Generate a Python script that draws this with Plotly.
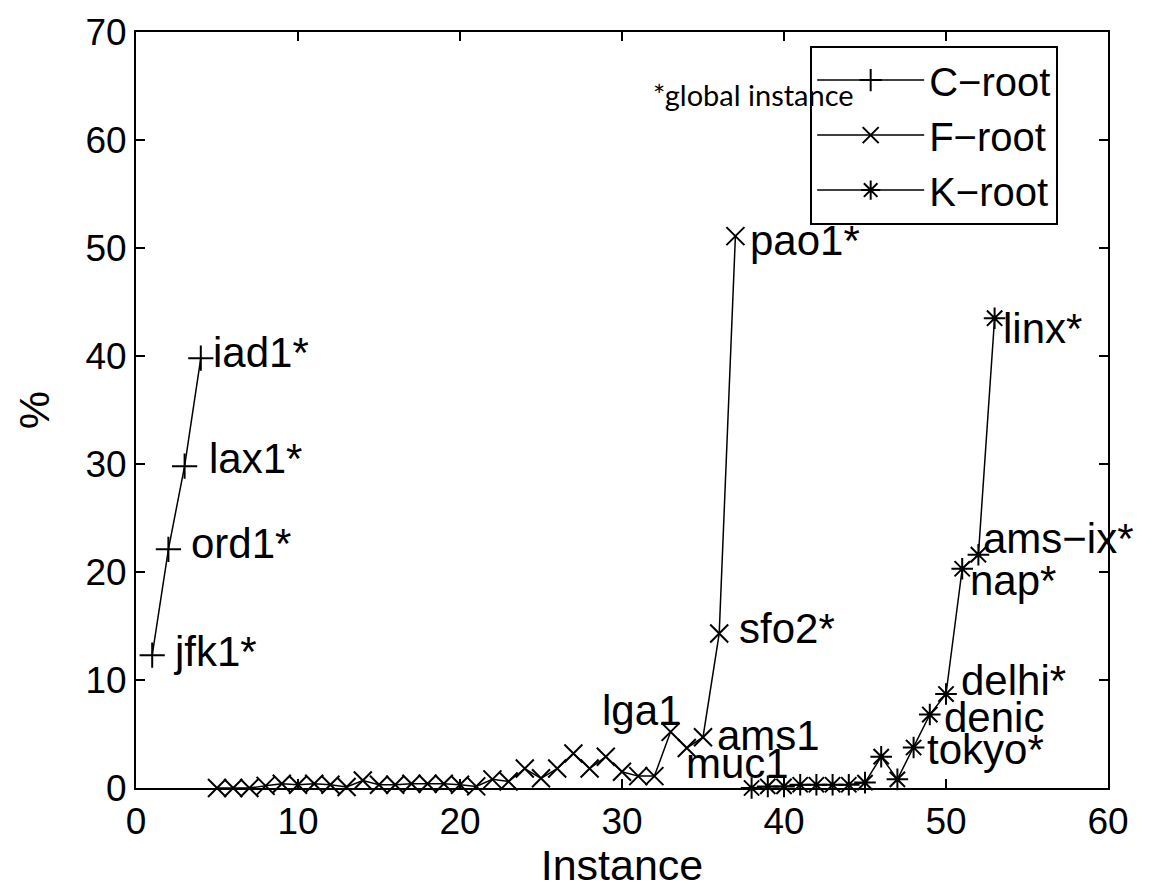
import plotly.graph_objects as go

# Share of queries (%) per anycast instance, grouped by root server
c_x = [1, 2, 3, 4]
c_y = [12.3, 22.1, 29.8, 39.8]
c_names = ["jfk1*", "ord1*", "lax1*", "iad1*"]

f_x = list(range(5, 38))
f_y = [0, 0, 0, 0.2, 0.4, 0.3, 0.4, 0.3, 0.1, 0.7, 0.3, 0.3, 0.4, 0.4, 0.4,
       0.3, 0.15, 0.8, 0.6, 1.8, 0.9, 1.8, 3.2, 1.8, 2.9, 1.5, 1.1, 1.1,
       5.2, 3.7, 4.7, 14.3, 51.1]
f_labelled_x = [33, 34, 35, 36, 37]
f_names = ["lga1", "muc1", "ams1", "sfo2*", "pao1*"]

k_x = list(range(38, 54))
k_y = [0, 0.15, 0.15, 0.3, 0.3, 0.3, 0.3, 0.5, 2.9, 0.8, 3.75, 6.8, 8.7,
       20.3, 21.6, 43.5]
k_labelled_x = [48, 49, 50, 51, 52, 53]
k_names = ["tokyo*", "denic", "delhi*", "nap*", "ams\u2212ix*", "linx*"]

series_names = ["C\u2212root", "F\u2212root", "K\u2212root"]
x_ticks = [0, 10, 20, 30, 40, 50, 60]
y_ticks = [0, 10, 20, 30, 40, 50, 60, 70]

FONT = "Liberation Sans, Arial, Helvetica, sans-serif"
TICK_FS = 37
LABEL_FS = 42
LEGEND_FS = 40
TITLE_FS = 43

fig = go.Figure()
for name, xs, ys, sym, size in [
    (series_names[0], c_x, c_y, "cross-thin", 18),
    (series_names[1], f_x, f_y, "x-thin", 18),
    (series_names[2], k_x, k_y, "asterisk", 18),
]:
    fig.add_trace(go.Scatter(
        x=xs, y=ys, name=name, mode="lines+markers",
        line=dict(color="black", width=1.5),
        marker=dict(symbol=sym, size=size, color="black",
                    line=dict(color="black", width=2)),
        cliponaxis=False,
    ))

# label placement: (xanchor, xshift px, yshift px) for each named point
c_place = [("left", 19, 4), ("left", 21, 6), ("left", 22, 8), ("left", 10, 6)]
f_place = [("right", 12, 21), ("left", -3, -15), ("left", 12, 2),
           ("left", 18, 5), ("left", 13, -4)]
k_place = [("left", 11, -2), ("left", 12, -3), ("left", 13, 14),
           ("left", 6, -12), ("left", 3, 16), ("left", 6, -10)]

annotations = []


def add_labels(xs, ys, lab_x, names, places):
    for lx, txt, (anc, dx, dy) in zip(lab_x, names, places):
        yv = ys[xs.index(lx)]
        annotations.append(dict(
            x=lx, y=yv, xref="x", yref="y", text=txt, showarrow=False,
            xanchor=anc, yanchor="middle", xshift=dx, yshift=dy,
            font=dict(family=FONT, size=LABEL_FS, color="black"),
        ))


add_labels(c_x, c_y, c_x, c_names, c_place)
add_labels(f_x, f_y, f_labelled_x, f_names, f_place)
add_labels(k_x, k_y, k_labelled_x, k_names, k_place)

annotations.append(dict(
    x=0.635, y=0.917, xref="paper", yref="paper", text="*global instance",
    showarrow=False, xanchor="center", yanchor="middle",
    font=dict(family="Lato, Open Sans, sans-serif", size=29, color="black"),
))

axis_common = dict(
    showline=True, linecolor="black", linewidth=2, mirror="ticks",
    ticks="inside", ticklen=9, tickwidth=2, tickcolor="black",
    showgrid=False, zeroline=False,
    tickfont=dict(family=FONT, size=TICK_FS, color="black"),
)

fig.update_layout(
    width=1160, height=889,
    margin=dict(l=136, r=52, t=23, b=101),
    paper_bgcolor="white", plot_bgcolor="white",
    xaxis=dict(range=[0, 60], tickvals=x_ticks,
               title=dict(text="Instance", standoff=2,
                          font=dict(family=FONT, size=TITLE_FS, color="black")),
               **axis_common),
    yaxis=dict(range=[0, 70], tickvals=y_ticks,
               title=dict(text="%", standoff=22,
                          font=dict(family=FONT, size=TITLE_FS, color="black")),
               **axis_common),
    legend=dict(x=0.6936, y=0.982, xanchor="left", yanchor="top",
                bgcolor="white", bordercolor="black", borderwidth=2,
                font=dict(family=FONT, size=LEGEND_FS, color="black"),
                itemwidth=107, tracegroupgap=0),
    annotations=annotations,
    showlegend=True,
)

fig.write_html("out.html")
